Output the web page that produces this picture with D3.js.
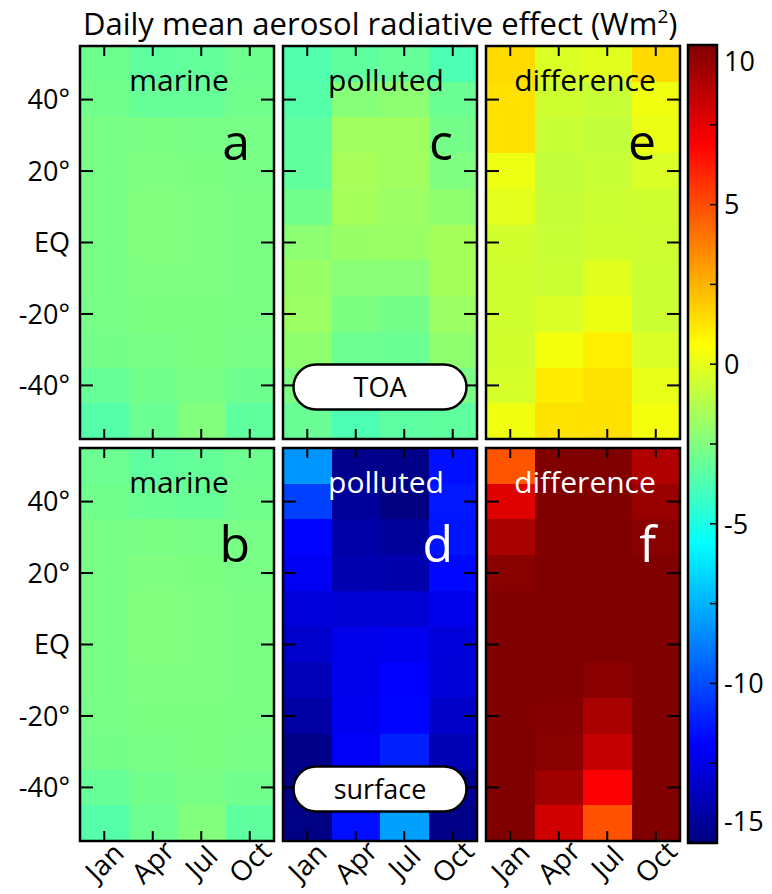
<!DOCTYPE html>
<html><head><meta charset="utf-8">
<script src="https://cdn.jsdelivr.net/npm/d3@7"></script>
<style>
body{margin:0;background:#fff}
svg{display:block}
text{font-family:'Open Sans',sans-serif}
</style>
</head><body><svg id="chart" width="772" height="894"></svg>
<script>
// ---------------- data ----------------
const months = ["Jan","Apr","Jul","Oct"];
const latitudes = [50,40,30,20,10,0,-10,-20,-30,-40,-50];
const latTicks = [40,20,0,-20,-40];
const latTickLabels = ["40°","20°","EQ","-20°","-40°"];
const cbarMinorTicks = [-12.5,-10,-7.5,-5,-2.5,0,2.5,5,7.5];
const cbarLabels = [10,5,0,-5,-10,-15];
const colorDomain = [-15,10];
const panelTitles = ["marine","polluted","difference"];
const panelLetters = ["a","c","e","b","d","f"];
const levelTags = ["TOA","surface"];
const titleText = "Daily mean aerosol radiative effect (Wm";

// rows: 50N ... 50S ; columns: Jan, Apr, Jul, Oct
const marineTOA = [
 [-2.9,-3.3,-3.2,-2.9],
 [-2.8,-3.1,-3.1,-2.85],
 [-2.65,-2.6,-2.65,-2.7],
 [-2.65,-2.5,-2.55,-2.65],
 [-2.65,-2.45,-2.5,-2.6],
 [-2.65,-2.45,-2.5,-2.6],
 [-2.65,-2.5,-2.5,-2.6],
 [-2.7,-2.55,-2.55,-2.6],
 [-2.75,-2.65,-2.55,-2.65],
 [-3.1,-2.8,-2.65,-2.9],
 [-3.55,-3.0,-2.45,-3.3]
];
const marineSurface = [
 [-2.95,-3.3,-3.15,-2.9],
 [-2.85,-3.0,-3.1,-2.85],
 [-2.65,-2.6,-2.65,-2.7],
 [-2.65,-2.5,-2.55,-2.65],
 [-2.65,-2.45,-2.5,-2.6],
 [-2.65,-2.45,-2.5,-2.6],
 [-2.65,-2.5,-2.5,-2.6],
 [-2.7,-2.55,-2.55,-2.6],
 [-2.75,-2.65,-2.55,-2.65],
 [-3.1,-2.8,-2.65,-2.85],
 [-3.55,-2.95,-2.45,-3.3]
];
const pollutedTOA = [
 [-3.65,-3.3,-3.1,-3.75],
 [-3.55,-2.35,-2.2,-3.0],
 [-3.3,-1.7,-1.7,-2.75],
 [-3.25,-1.5,-1.7,-2.5],
 [-2.8,-1.6,-1.8,-2.1],
 [-2.2,-1.9,-1.85,-1.55],
 [-1.9,-2.3,-2.3,-1.55],
 [-1.8,-2.55,-2.75,-1.8],
 [-2.1,-2.95,-3.0,-2.1],
 [-2.55,-2.8,-2.8,-2.6],
 [-3.05,-3.75,-3.35,-3.3]
];
const pollutedSurface = [
 [-8.2,-14.7,-14.8,-11.5],
 [-10.3,-14.3,-15.2,-11.3],
 [-11.8,-14.0,-14.3,-11.4],
 [-12.15,-13.8,-13.9,-11.7],
 [-12.75,-12.9,-12.9,-12.4],
 [-13.1,-12.4,-12.25,-12.75],
 [-13.6,-12.4,-11.9,-12.8],
 [-14.1,-12.25,-11.8,-13.2],
 [-14.8,-12.05,-11.1,-13.7],
 [-14.9,-12.4,-11.7,-14.5],
 [-14.9,-11.5,-7.95,-14.8]
];
const differenceTOA = [
 [1.5,-0.28,-0.12,1.56],
 [1.38,-0.56,-0.72,0.25],
 [1.35,-0.72,-0.81,0.12],
 [0.19,-0.81,-0.72,-0.31],
 [-0.06,-0.78,-0.62,-0.56],
 [-0.5,-0.72,-0.53,-0.6],
 [-0.53,-0.62,-0.12,-0.62],
 [-0.53,-0.31,0.16,-0.62],
 [-0.5,0.34,1.0,-0.31],
 [-0.38,1.09,1.31,0.06],
 [0.25,1.3,1.38,0.34]
];
const differenceSurface = [
 [4.8,11.5,12.0,8.8],
 [7.64,11.8,12.4,9.4],
 [9.0,11.6,12.1,9.8],
 [9.8,11.4,11.7,10.6],
 [10.9,11.2,11.3,11.0],
 [11.2,11.0,10.8,11.3],
 [11.5,10.6,9.75,11.4],
 [11.8,9.9,9.0,11.6],
 [12.0,9.8,8.3,11.8],
 [12.2,9.2,7.0,12.0],
 [12.4,8.0,4.9,12.1]
];

// ---------------- layout ----------------
const svg = d3.select("#chart");
const colX = [80,283,486], panelW = 194;
const rowY = [46,448], panelH = 393;

const span = colorDomain[1]-colorDomain[0];
const jetStops = [0,1/8,3/8,5/8,7/8,1].map(t => colorDomain[0]+t*span);
const color = d3.scaleLinear()
  .domain(jetStops)
  .range(["#000080","#0000ff","#00ffff","#ffff00","#ff0000","#800000"])
  .interpolate(d3.interpolateRgb)
  .clamp(true);

const grids = [[marineTOA,pollutedTOA,differenceTOA],[marineSurface,pollutedSurface,differenceSurface]];

grids.forEach((row, ri) => {
  row.forEach((grid, ci) => {
    const x0 = colX[ci], y0 = rowY[ri];
    const x = d3.scaleBand().domain(months).range([x0, x0+panelW]);
    const y = d3.scaleLinear().domain([-55,55]).range([y0+panelH, y0]);
    const g = svg.append("g");
    const cells = [];
    grid.forEach((vals, li) => vals.forEach((v, mi) => cells.push({lat: latitudes[li], m: months[mi], v})));
    g.selectAll("rect.cell").data(cells).join("rect")
      .attr("class","cell")
      .attr("x", d => x(d.m))
      .attr("y", d => y(d.lat+5))
      .attr("width", x.bandwidth()+0.5)
      .attr("height", d => y(d.lat-5) - y(d.lat+5) + 0.5)
      .attr("fill", d => color(d.v))
      .attr("shape-rendering","crispEdges");

    // ticks
    const tk = g.append("g").attr("stroke","#000").attr("stroke-width",2);
    latTicks.forEach(l => {
      tk.append("line").attr("x1",x0).attr("x2",x0+13).attr("y1",y(l)).attr("y2",y(l));
      tk.append("line").attr("x1",x0+panelW-13).attr("x2",x0+panelW).attr("y1",y(l)).attr("y2",y(l));
    });
    months.forEach(m => {
      const cx = x(m)+x.bandwidth()/2;
      tk.append("line").attr("x1",cx).attr("x2",cx).attr("y1",y0).attr("y2",y0+10);
      tk.append("line").attr("x1",cx).attr("x2",cx).attr("y1",y0+panelH-10).attr("y2",y0+panelH);
    });

    g.append("rect").attr("x",x0).attr("y",y0).attr("width",panelW).attr("height",panelH)
      .attr("fill","none").attr("stroke","#000").attr("stroke-width",2.5);

    const white = ri===1 && ci>0;
    g.append("text").attr("x", x0+panelW/2+(ci===1?6:2)).attr("y", y0+45)
      .attr("text-anchor","middle").attr("font-size",30)
      .attr("fill", white?"#fff":"#000").text(panelTitles[ci]);
    g.append("text").attr("x", x0+panelW-24).attr("y", y0+114)
      .attr("text-anchor","end").attr("font-size",50)
      .attr("fill", white?"#fff":"#000").text(panelLetters[ri*3+ci]);

    if (ci===1) {
      const cx = x0+panelW/2, cy = y0+panelH-52;
      g.append("rect").attr("x",cx-86.5).attr("y",cy-22.5).attr("width",173).attr("height",45)
        .attr("rx",22.5).attr("fill","#fff").attr("stroke","#000").attr("stroke-width",2.5);
      g.append("text").attr("x",cx).attr("y",cy).attr("dy","0.36em").attr("text-anchor","middle")
        .attr("font-size",27).text(levelTags[ri]);
    }

    if (ci===0) {
      g.selectAll("text.ylab").data(latTicks).join("text").attr("class","ylab")
        .attr("x", x0-10).attr("y", d => y(d)).attr("dy","0.36em")
        .attr("text-anchor","end").attr("font-size",27)
        .text((d,i) => latTickLabels[i]);
    }
    if (ri===1) {
      g.selectAll("text.xlab").data(months).join("text").attr("class","xlab")
        .attr("transform", d => `translate(${x(d)+x.bandwidth()/2},${y0+panelH+21}) rotate(-45)`)
        .attr("dy","0.36em").attr("text-anchor","middle").attr("font-size",28)
        .text(d => d);
    }
  });
});

// title
const title = svg.append("text").attr("x",83).attr("y",35).attr("font-size",31).text(titleText);
title.append("tspan").attr("font-size",19).attr("dy",-12).text("2");
title.append("tspan").attr("dy",12).text(")");

// colorbar
const cbX = 688, cbW = 29, cbTop = 45, cbBot = 843;
const cy = d3.scaleLinear().domain(colorDomain).range([cbBot, cbTop]);
const defs = svg.append("defs");
const grad = defs.append("linearGradient").attr("id","jet").attr("x1",0).attr("x2",0).attr("y1",1).attr("y2",0);
grad.selectAll("stop").data(jetStops).join("stop")
  .attr("offset", d => (d-colorDomain[0])/span)
  .attr("stop-color", d => color(d));
svg.append("rect").attr("x",cbX).attr("y",cbTop).attr("width",cbW).attr("height",cbBot-cbTop)
  .attr("fill","url(#jet)");
svg.append("g").attr("stroke","#000").attr("stroke-width",1.5)
  .selectAll("line").data(cbarMinorTicks).join("line")
  .attr("x1",cbX+cbW-7).attr("x2",cbX+cbW).attr("y1",d=>cy(d)).attr("y2",d=>cy(d));
svg.append("rect").attr("x",cbX).attr("y",cbTop).attr("width",cbW).attr("height",cbBot-cbTop)
  .attr("fill","none").attr("stroke","#000").attr("stroke-width",2.5);
svg.selectAll("text.cblab").data(cbarLabels).join("text").attr("class","cblab")
  .attr("x",724)
  .attr("y", d => Math.min(Math.max(cy(d), cbTop+16), cbBot-22))
  .attr("dy","0.36em").attr("font-size",27).text(d => d);
</script>
</body></html>
